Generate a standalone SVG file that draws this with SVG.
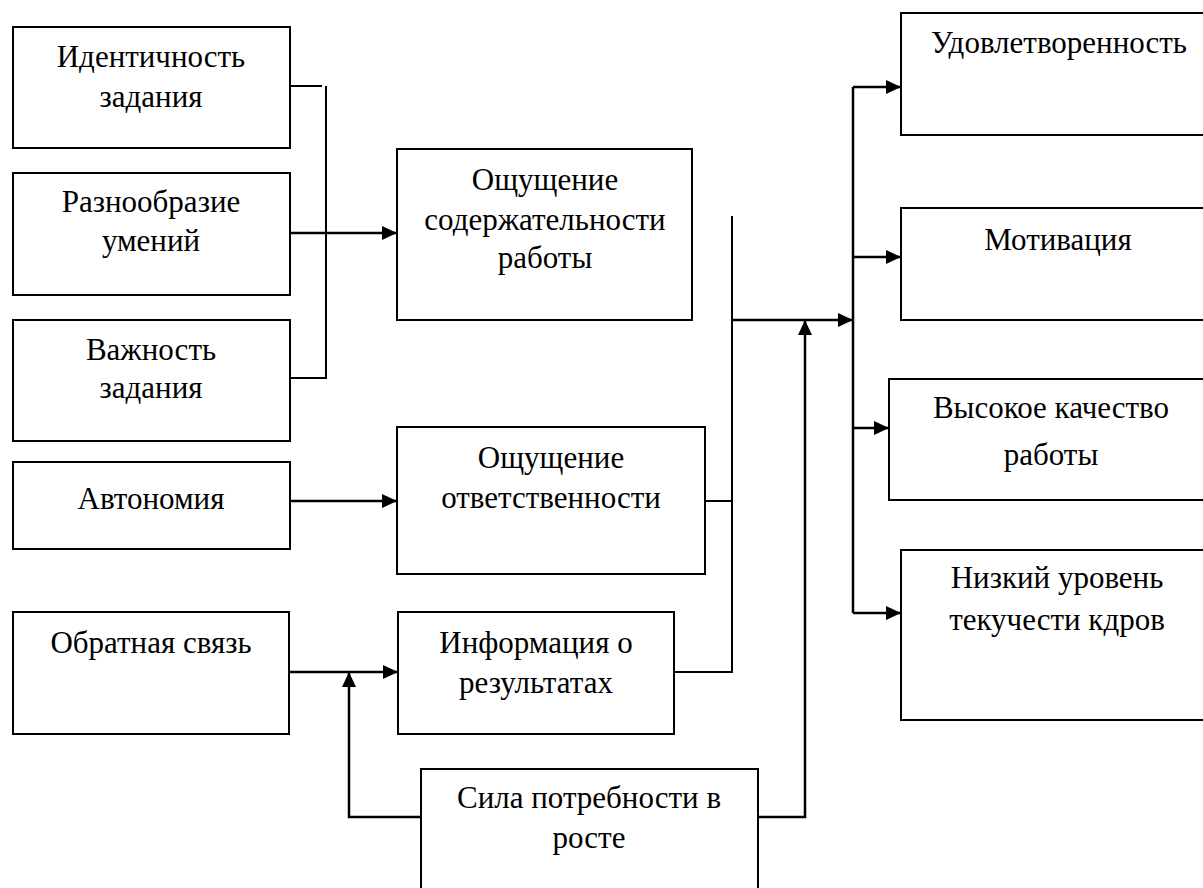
<svg xmlns="http://www.w3.org/2000/svg" width="1203" height="888" viewBox="0 0 1203 888">
<style>
.box{fill:#fff;stroke:#000;stroke-width:2}
.t{font-family:"Times New Roman",Tinos,"Liberation Serif","DejaVu Serif","Noto Serif",serif;font-size:31px;fill:#000;text-anchor:middle}
.c{fill:none;stroke:#000;stroke-width:2.5}
.l{fill:none;stroke:#000;stroke-width:2}
</style>
<defs>
<marker id="ah" viewBox="0 0 15 14" refX="15" refY="7" markerWidth="15" markerHeight="14" markerUnits="userSpaceOnUse" orient="auto">
<path d="M0,0 L15,7 L0,14 Z" fill="#000"/>
</marker>
</defs>
<rect width="1203" height="888" fill="#fff"/>
<g id="n1"><rect class="box" x="13" y="27" width="277" height="121"/><text class="t" x="151" y="67">Идентичность</text><text class="t" x="151" y="107">задания</text></g>
<g id="n2"><rect class="box" x="13" y="173" width="277" height="122"/><text class="t" x="151" y="212">Разнообразие</text><text class="t" x="151" y="251">умений</text></g>
<g id="n3"><rect class="box" x="13" y="320" width="277" height="121"/><text class="t" x="151" y="360">Важность</text><text class="t" x="151" y="398">задания</text></g>
<g id="n4"><rect class="box" x="13" y="462" width="277" height="87"/><text class="t" x="151" y="509">Автономия</text></g>
<g id="n5"><rect class="box" x="13" y="612" width="276" height="122"/><text class="t" x="151" y="653">Обратная связь</text></g>
<g id="n6"><rect class="box" x="397" y="149" width="295" height="171"/><text class="t" x="545" y="190">Ощущение</text><text class="t" x="545" y="230">содержательности</text><text class="t" x="545" y="268">работы</text></g>
<g id="n7"><rect class="box" x="397" y="427" width="308" height="147"/><text class="t" x="551" y="468">Ощущение</text><text class="t" x="551" y="508">ответственности</text></g>
<g id="n8"><rect class="box" x="398" y="612" width="276" height="122"/><text class="t" x="536" y="653">Информация о</text><text class="t" x="536" y="693">результатах</text></g>
<g id="n9"><rect class="box" x="421" y="769" width="337" height="130"/><text class="t" x="589" y="808">Сила потребности в</text><text class="t" x="589" y="848">росте</text></g>
<g id="n10"><rect class="box" x="901" y="13" width="320" height="122"/><text class="t" x="1059" y="53">Удовлетворенность</text></g>
<g id="n11"><rect class="box" x="901" y="208" width="320" height="112"/><text class="t" x="1058" y="250">Мотивация</text></g>
<g id="n12"><rect class="box" x="889" y="379" width="330" height="121"/><text class="t" x="1051" y="418">Высокое качество</text><text class="t" x="1051" y="465">работы</text></g>
<g id="n13"><rect class="box" x="901" y="550" width="320" height="170"/><text class="t" x="1057" y="588">Низкий уровень</text><text class="t" x="1057" y="630">текучести кдров</text></g>
<g id="connectors">
<path class="l" d="M290,86 H322"/>
<path class="l" d="M326,86 V378 H290"/>
<path class="c" d="M290,233 H397" marker-end="url(#ah)"/>
<path class="c" d="M290,501 H397" marker-end="url(#ah)"/>
<path class="c" d="M289,672 H398" marker-end="url(#ah)"/>
<path class="c" d="M421,817 H349 V672" marker-end="url(#ah)"/>
<path class="l" d="M705,501 H732"/>
<path class="l" d="M732,216 V672 H674"/>
<path class="c" d="M732,320 H853" marker-end="url(#ah)"/>
<path class="c" d="M758,817 H805 V320" marker-end="url(#ah)"/>
<path class="c" d="M853,87 V613"/>
<path class="c" d="M853,87 H901" marker-end="url(#ah)"/>
<path class="c" d="M853,257 H901" marker-end="url(#ah)"/>
<path class="c" d="M853,428 H889" marker-end="url(#ah)"/>
<path class="c" d="M853,613 H901" marker-end="url(#ah)"/>
</g>
</svg>
